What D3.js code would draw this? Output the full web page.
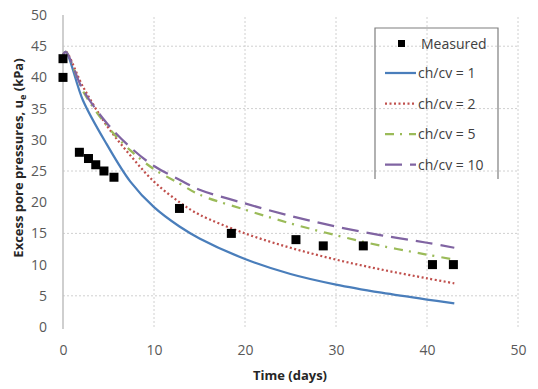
<!DOCTYPE html>
<html>
  <head>
    <meta charset="utf-8">
    <style>
      body { margin: 0; background: #fff; }
      text { font-family: "Open Sans", sans-serif; }
    </style>
  </head>
  <body>
    <div id="vis"></div>
    <script src="https://d3js.org/d3.v7.min.js"></script>
    <script>
      // measured points
      const measuredT = [0, 0, 1.8, 2.8, 3.6, 4.5, 5.6, 12.8, 18.5, 25.6, 28.6, 33, 40.6, 42.9]
      const measuredU = [43, 40, 28, 27, 26, 25, 24, 19, 15, 14, 13, 13, 10, 10]

      // predicted curves
      const curveT = [0, 0.3, 2.2, 4.8, 7.4, 10, 12.8, 15, 20, 25, 30, 35, 40, 43]
      const u1  = [43.6, 44.1, 36.3, 29.3, 23.3, 19.2, 16.1, 14.2, 10.9, 8.5, 6.8, 5.5, 4.4, 3.8]
      const u2  = [43.6, 44.1, 38.5, 32.3, 27.5, 23.3, 20.0, 18.0, 15.0, 12.7, 10.8, 9.2, 7.8, 7.0]
      const u5  = [43.6, 44.1, 37.8, 32.3, 28.3, 25.3, 23.0, 21.2, 18.8, 16.6, 14.7, 13.0, 11.6, 10.8]
      const u10 = [43.6, 44.1, 38.0, 32.7, 28.8, 25.8, 23.6, 22.0, 19.8, 17.8, 16.1, 14.7, 13.5, 12.7]

      const seriesNames = ['ch/cv = 1', 'ch/cv = 2', 'ch/cv = 5', 'ch/cv = 10']
      const seriesValues = [u1, u2, u5, u10]
      const seriesColors = ['#4a7ebb', '#c0504d', '#9bbb59', '#8064a2']
      const seriesDash = [null, '2,2.5', '9,6,2,7', '17,8']

      const xTicks = [0, 10, 20, 30, 40, 50]
      const yTicks = [0, 5, 10, 15, 20, 25, 30, 35, 40, 45, 50]
      const gridY = [5, 15, 25, 35, 45]

      const W = 538, H = 389
      const svg = d3.select('#vis').append('svg')
              .attr('width', W).attr('height', H)

      const x = d3.scaleLinear().domain([0, 50]).range([63, 518])
      const y = d3.scaleLinear().domain([0, 50]).range([327, 15])

      // grid lines
      svg.append('g').selectAll('line')
              .data(gridY).enter().append('line')
              .attr('x1', x(0)).attr('x2', x(50))
              .attr('y1', d => y(d)).attr('y2', d => y(d))
              .attr('stroke', '#d0d0d0').attr('stroke-dasharray', '2,2')
      svg.append('g').selectAll('line')
              .data(xTicks.slice(1)).enter().append('line')
              .attr('x1', d => x(d)).attr('x2', d => x(d))
              .attr('y1', y(0)).attr('y2', y(50))
              .attr('stroke', '#d0d0d0').attr('stroke-dasharray', '2,2')

      // y axis line
      svg.append('line')
              .attr('x1', x(0)).attr('x2', x(0))
              .attr('y1', y(50)).attr('y2', y(0) + 2)
              .attr('stroke', '#bfbfbf').attr('stroke-width', 1.5)

      // tick labels
      const yAxis = svg.append('g')
              .attr('transform', `translate(${x(0) - 16}, 0)`)
              .call(d3.axisLeft(y).tickValues(yTicks).tickSize(0).tickPadding(0))
      yAxis.select('.domain').remove()
      yAxis.selectAll('text').attr('font-size', 14).attr('fill', '#595959')
              .style('font-family', '"Open Sans", sans-serif')

      const xAxis = svg.append('g')
              .attr('transform', `translate(0, ${y(0) + 18})`)
              .call(d3.axisBottom(x).tickValues(xTicks).tickSize(0).tickPadding(0))
      xAxis.select('.domain').remove()
      xAxis.selectAll('text').attr('font-size', 14).attr('fill', '#595959')
              .style('font-family', '"Open Sans", sans-serif')

      // axis titles
      svg.append('text')
              .attr('x', 290).attr('y', 380)
              .attr('text-anchor', 'middle')
              .attr('font-size', 13).attr('font-weight', 'bold').attr('fill', '#262626')
              .text('Time (days)')
      const yt = svg.append('text')
              .attr('transform', 'translate(23, 158) rotate(-90)')
              .attr('text-anchor', 'middle')
              .attr('font-size', 13).attr('font-weight', 'bold').attr('fill', '#262626')
      yt.append('tspan').text('Excess pore pressures, u')
      yt.append('tspan').attr('font-size', 9).attr('dy', 3).text('e')
      yt.append('tspan').attr('dy', -3).text(' (kPa)')

      // curves
      const line = d3.line()
              .x(d => x(d[0])).y(d => y(d[1]))
              .curve(d3.curveCatmullRom.alpha(0.5))
      seriesValues.forEach((vals, i) => {
        svg.append('path')
                .datum(curveT.map((t, j) => [t, vals[j]]))
                .attr('d', line)
                .attr('fill', 'none')
                .attr('stroke', seriesColors[i])
                .attr('stroke-width', 2.25)
                .attr('stroke-dasharray', seriesDash[i])
      })

      // measured points
      svg.append('g').selectAll('rect')
              .data(measuredT.map((t, i) => [t, measuredU[i]]))
              .enter().append('rect')
              .attr('x', d => x(d[0]) - 4.5).attr('y', d => y(d[1]) - 4.5)
              .attr('width', 9).attr('height', 9)
              .attr('fill', '#000')

      // legend (box has no bottom edge in the original)
      const lg = svg.append('g')
      lg.append('path')
              .attr('d', 'M375,179 V28 H498 V179')
              .attr('fill', 'none').attr('stroke', '#7f7f7f').attr('stroke-width', 1.2)
      lg.append('rect').attr('x', 398).attr('y', 40).attr('width', 7).attr('height', 7).attr('fill', '#000')
      lg.append('text').attr('x', 421).attr('y', 49).attr('font-size', 14).attr('fill', '#404040').text('Measured')
      seriesNames.forEach((name, i) => {
        const ly = 73 + i * 30.5
        lg.append('line')
                .attr('x1', 385).attr('x2', 416).attr('y1', ly).attr('y2', ly)
                .attr('stroke', seriesColors[i]).attr('stroke-width', 2.25)
                .attr('stroke-dasharray', seriesDash[i])
        lg.append('text').attr('x', 418).attr('y', ly + 5)
                .attr('font-size', 14).attr('fill', '#404040').text(name)
      })
    </script>
  </body>
</html>
